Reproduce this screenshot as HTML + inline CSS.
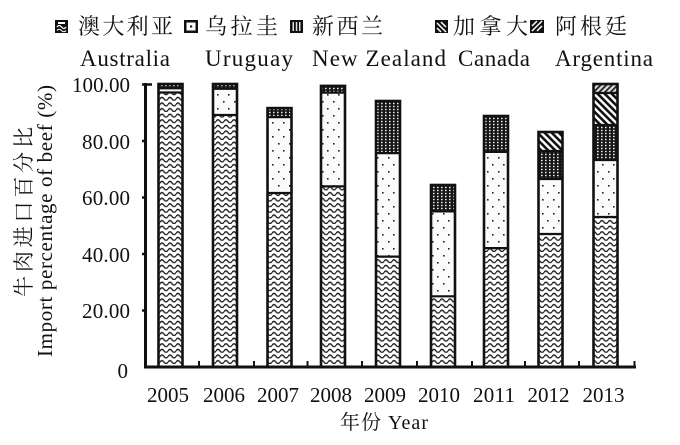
<!DOCTYPE html>
<html><head><meta charset="utf-8"><style>
html,body{margin:0;padding:0;background:#fff;}
svg{display:block;}
text{font-family:"Liberation Serif","Noto Serif CJK SC",serif;fill:#111;}
.cn{font-family:"Liberation Serif","Noto Serif CJK SC","Noto Sans CJK SC",serif;}
</style></head><body>
<svg width="680" height="445" viewBox="0 0 680 445" xmlns="http://www.w3.org/2000/svg">
<defs>
<pattern id="pA" width="8" height="5.6" patternUnits="userSpaceOnUse">
<rect width="8" height="5.6" fill="#fff"/>
<path d="M0,3.6 Q2,0.6 4,3.6 T8,3.6" stroke="#111" stroke-width="1.2" fill="none"/>
<path d="M0,4.6 Q2,1.6 4,4.6 T8,4.6" stroke="#888" stroke-width="0.6" fill="none"/>
</pattern>
<pattern id="pU" width="11" height="14" patternUnits="userSpaceOnUse">
<rect width="11" height="14" fill="#fbfbfb"/>
<rect x="3" y="3" width="1.6" height="1.6" fill="#222"/>
<rect x="8" y="10" width="1.6" height="1.6" fill="#222"/>
</pattern>
<pattern id="pN" width="4" height="3" patternUnits="userSpaceOnUse">
<rect width="4" height="3" fill="#151515"/>
<rect x="1" y="0.8" width="1.6" height="1.4" fill="#eee"/>
</pattern>
<pattern id="pC" width="5" height="5" patternUnits="userSpaceOnUse" patternTransform="rotate(-45)">
<rect width="5" height="5" fill="#fff"/>
<rect width="2.6" height="5" fill="#111"/>
</pattern>
<pattern id="pR" width="4" height="4" patternUnits="userSpaceOnUse" patternTransform="rotate(45)">
<rect width="4" height="4" fill="#ddd"/>
<rect width="1.8" height="4" fill="#222"/>
</pattern>
</defs>

<!-- Legend icons -->
<rect x="55" y="20" width="13" height="13" fill="#111"/>
<path d="M57,27 Q59,24 61.5,27 T66,27" stroke="#fff" stroke-width="1.3" fill="none"/>
<path d="M57,30.5 Q59,28 61.5,30.5 T66,30.5" stroke="#fff" stroke-width="1.1" fill="none"/>
<rect x="58" y="22" width="7" height="2" fill="#fff"/>

<rect x="184" y="20" width="14" height="13" fill="#111"/>
<rect x="186.5" y="22.5" width="9" height="8" fill="#fff"/>
<rect x="190" y="25.5" width="2.2" height="2" fill="#111"/>

<rect x="290" y="20" width="13" height="13" fill="#111"/>
<rect x="292.5" y="22" width="1.5" height="9" fill="#ddd"/>
<rect x="295.8" y="22" width="1.5" height="9" fill="#ddd"/>
<rect x="299" y="22" width="1.5" height="9" fill="#ddd"/>

<rect x="435" y="20" width="13" height="13" fill="#111"/>
<path d="M437,23 L446,32 M437,28 L441,32 M441,22 L446,27" stroke="#fff" stroke-width="1.5"/>

<rect x="530" y="20" width="14" height="13" fill="#111"/>
<path d="M532,31 L542,21 M532,26 L537,21 M537,31 L542,26" stroke="#fff" stroke-width="1.5"/>

<!-- Legend text -->
<g class="cn" font-size="22">
<text x="78" y="34" textLength="95" lengthAdjust="spacing">澳大利亚</text>
<text x="205" y="34" textLength="73" lengthAdjust="spacing">乌拉圭</text>
<text x="312" y="34" textLength="71" lengthAdjust="spacing">新西兰</text>
<text x="453" y="34" textLength="75" lengthAdjust="spacing">加拿大</text>
<text x="555" y="34" textLength="72" lengthAdjust="spacing">阿根廷</text>
</g>
<g font-size="23">
<text x="80" y="66" textLength="90" lengthAdjust="spacing">Australia</text>
<text x="205" y="66" textLength="88" lengthAdjust="spacing">Uruguay</text>
<text x="312" y="66" textLength="134" lengthAdjust="spacing">New Zealand</text>
<text x="458" y="66" textLength="72" lengthAdjust="spacing">Canada</text>
<text x="555" y="66" textLength="98" lengthAdjust="spacing">Argentina</text>
</g>

<!-- Y axis title -->
<text class="cn" font-size="21" transform="translate(31,212) rotate(-90)" text-anchor="middle" textLength="170" lengthAdjust="spacing">牛肉进口百分比</text>
<text font-size="21" transform="translate(52,221) rotate(-90)" text-anchor="middle" textLength="272" lengthAdjust="spacing">Import percentage of beef (%)</text>

<!-- Y tick labels -->
<g font-size="21" text-anchor="end">
<text x="130" y="92" textLength="58" lengthAdjust="spacing">100.00</text>
<text x="130" y="149" textLength="48" lengthAdjust="spacing">80.00</text>
<text x="130" y="205" textLength="48" lengthAdjust="spacing">60.00</text>
<text x="130" y="262" textLength="48" lengthAdjust="spacing">40.00</text>
<text x="130" y="318" textLength="48" lengthAdjust="spacing">20.00</text>
<text x="128" y="378">0</text>
</g>

<!-- Bars -->
<g id="bars">
<rect x="158.5" y="92.5" width="24" height="274.5" fill="url(#pA)"/>
<rect x="158.5" y="88.3" width="24" height="4.2" fill="url(#pU)"/>
<rect x="158.5" y="84" width="24" height="4.3" fill="url(#pN)"/>
<rect x="213" y="115" width="24" height="252" fill="url(#pA)"/>
<rect x="213" y="88.8" width="24" height="26.2" fill="url(#pU)"/>
<rect x="213" y="84" width="24" height="4.8" fill="url(#pN)"/>
<rect x="267.5" y="193" width="24" height="174" fill="url(#pA)"/>
<rect x="267.5" y="117.1" width="24" height="75.9" fill="url(#pU)"/>
<rect x="267.5" y="108.1" width="24" height="9" fill="url(#pN)"/>
<rect x="321" y="186.4" width="24" height="180.6" fill="url(#pA)"/>
<rect x="321" y="92.6" width="24" height="93.8" fill="url(#pU)"/>
<rect x="321" y="85.9" width="24" height="6.7" fill="url(#pN)"/>
<rect x="376" y="256.6" width="24" height="110.4" fill="url(#pA)"/>
<rect x="376" y="153.1" width="24" height="103.5" fill="url(#pU)"/>
<rect x="376" y="101" width="24" height="52.1" fill="url(#pN)"/>
<rect x="431" y="296.3" width="24" height="70.7" fill="url(#pA)"/>
<rect x="431" y="211.4" width="24" height="84.9" fill="url(#pU)"/>
<rect x="431" y="185" width="24" height="26.4" fill="url(#pN)"/>
<rect x="484" y="248.1" width="24" height="118.9" fill="url(#pA)"/>
<rect x="484" y="151.9" width="24" height="96.2" fill="url(#pU)"/>
<rect x="484" y="116" width="24" height="35.9" fill="url(#pN)"/>
<rect x="538.5" y="234" width="24" height="133" fill="url(#pA)"/>
<rect x="538.5" y="179" width="24" height="55" fill="url(#pU)"/>
<rect x="538.5" y="151" width="24" height="28" fill="url(#pN)"/>
<rect x="538.5" y="132" width="24" height="19" fill="url(#pC)"/>
<rect x="593.5" y="217" width="24" height="150" fill="url(#pA)"/>
<rect x="593.5" y="160" width="24" height="57" fill="url(#pU)"/>
<rect x="593.5" y="125" width="24" height="35" fill="url(#pN)"/>
<rect x="593.5" y="93" width="24" height="32" fill="url(#pC)"/>
<rect x="593.5" y="84" width="24" height="9" fill="url(#pR)"/>
</g>

<!-- Segment separators and outlines -->
<g stroke="#111" stroke-width="2.2" fill="none">
<line x1="158.5" x2="182.5" y1="92.5" y2="92.5"/><line x1="158.5" x2="182.5" y1="88.3" y2="88.3"/>
<line x1="213" x2="237" y1="115" y2="115"/><line x1="213" x2="237" y1="88.8" y2="88.8"/>
<line x1="267.5" x2="291.5" y1="193" y2="193"/><line x1="267.5" x2="291.5" y1="117.1" y2="117.1"/>
<line x1="321" x2="345" y1="186.4" y2="186.4"/><line x1="321" x2="345" y1="92.6" y2="92.6"/>
<line x1="376" x2="400" y1="256.6" y2="256.6"/><line x1="376" x2="400" y1="153.1" y2="153.1"/>
<line x1="431" x2="455" y1="296.3" y2="296.3"/><line x1="431" x2="455" y1="211.4" y2="211.4"/>
<line x1="484" x2="508" y1="248.1" y2="248.1"/><line x1="484" x2="508" y1="151.9" y2="151.9"/>
<line x1="538.5" x2="562.5" y1="234" y2="234"/><line x1="538.5" x2="562.5" y1="179" y2="179"/><line x1="538.5" x2="562.5" y1="151" y2="151"/>
<line x1="593.5" x2="617.5" y1="217" y2="217"/><line x1="593.5" x2="617.5" y1="160" y2="160"/><line x1="593.5" x2="617.5" y1="125" y2="125"/><line x1="593.5" x2="617.5" y1="93" y2="93"/>
</g>
<g stroke="#111" stroke-width="2.6" fill="none">
<rect x="158.5" y="84" width="24" height="283"/>
<rect x="213" y="84" width="24" height="283"/>
<rect x="267.5" y="108.1" width="24" height="258.9"/>
<rect x="321" y="85.9" width="24" height="281.1"/>
<rect x="376" y="101" width="24" height="266"/>
<rect x="431" y="185" width="24" height="182"/>
<rect x="484" y="116" width="24" height="251"/>
<rect x="538.5" y="132" width="24" height="235"/>
<rect x="593.5" y="84" width="24" height="283"/>
</g>

<!-- Axes -->
<g stroke="#111" fill="none">
<line x1="145.5" y1="83" x2="145.5" y2="368.5" stroke-width="3"/>
<line x1="142" y1="84.5" x2="152" y2="84.5" stroke-width="2.5"/>
<line x1="142" y1="141" x2="146" y2="141" stroke-width="2.5"/>
<line x1="142" y1="197.5" x2="146" y2="197.5" stroke-width="2.5"/>
<line x1="142" y1="254" x2="146" y2="254" stroke-width="2.5"/>
<line x1="142" y1="310.5" x2="146" y2="310.5" stroke-width="2.5"/>
<line x1="144" y1="367" x2="636" y2="367" stroke-width="3"/>
<line x1="199" y1="361" x2="199" y2="367" stroke-width="2"/>
<line x1="254" y1="361" x2="254" y2="367" stroke-width="2"/>
<line x1="307.5" y1="361" x2="307.5" y2="367" stroke-width="2"/>
<line x1="362" y1="361" x2="362" y2="367" stroke-width="2"/>
<line x1="417" y1="361" x2="417" y2="367" stroke-width="2"/>
<line x1="472" y1="361" x2="472" y2="367" stroke-width="2"/>
<line x1="525" y1="361" x2="525" y2="367" stroke-width="2"/>
<line x1="579" y1="361" x2="579" y2="367" stroke-width="2"/>
<line x1="634.5" y1="361" x2="634.5" y2="367" stroke-width="2"/>
</g>

<!-- X labels -->
<g font-size="21" text-anchor="middle">
<text x="168" y="402" textLength="42" lengthAdjust="spacing">2005</text>
<text x="224" y="402" textLength="42" lengthAdjust="spacing">2006</text>
<text x="278" y="402" textLength="42" lengthAdjust="spacing">2007</text>
<text x="331" y="402" textLength="42" lengthAdjust="spacing">2008</text>
<text x="385" y="402" textLength="42" lengthAdjust="spacing">2009</text>
<text x="439" y="402" textLength="42" lengthAdjust="spacing">2010</text>
<text x="494" y="402" textLength="42" lengthAdjust="spacing">2011</text>
<text x="548.5" y="402" textLength="42" lengthAdjust="spacing">2012</text>
<text x="603.5" y="402" textLength="42" lengthAdjust="spacing">2013</text>
</g>

<!-- X title -->
<text class="cn" x="340" y="429" font-size="20" textLength="88" lengthAdjust="spacing">年份 Year</text>
</svg>
</body></html>
